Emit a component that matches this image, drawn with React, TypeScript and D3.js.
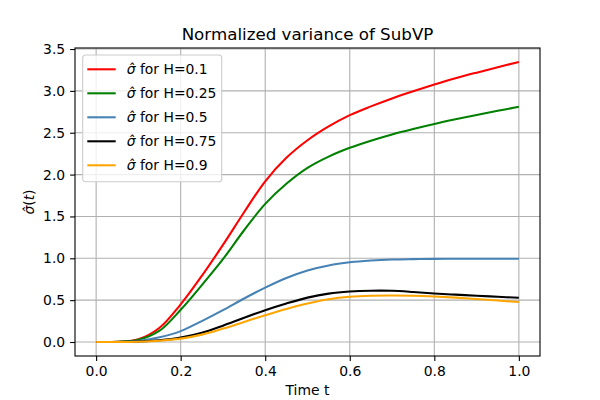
import * as d3 from "d3";
import { useEffect, useRef } from "react";

const WIDTH = 600;
const HEIGHT = 400;
const FONT = "DejaVu Sans, sans-serif";

// time grid and the five series
const times = [0, 0.05, 0.1, 0.15, 0.2, 0.25, 0.3, 0.35, 0.4, 0.45, 0.5, 0.55, 0.6, 0.65, 0.7, 0.75, 0.8, 0.85, 0.9, 0.95, 1.0];
const sigmaH010 = [0, 0.003, 0.033, 0.17, 0.45, 0.79, 1.16, 1.55, 1.92, 2.2, 2.41, 2.575, 2.71, 2.815, 2.91, 2.995, 3.075, 3.15, 3.218, 3.283, 3.345];
const sigmaH025 = [0, 0.002, 0.026, 0.135, 0.385, 0.68, 0.99, 1.335, 1.65, 1.89, 2.08, 2.215, 2.32, 2.405, 2.48, 2.545, 2.605, 2.66, 2.712, 2.762, 2.81];
const sigmaH050 = [0, 0.001, 0.013, 0.056, 0.13, 0.25, 0.38, 0.52, 0.65, 0.765, 0.855, 0.915, 0.952, 0.973, 0.985, 0.99, 0.993, 0.994, 0.994, 0.994, 0.994];
const sigmaH075 = [0, 0.0005, 0.005, 0.02, 0.052, 0.11, 0.195, 0.29, 0.38, 0.46, 0.53, 0.578, 0.603, 0.613, 0.612, 0.598, 0.58, 0.566, 0.553, 0.54, 0.528];
const sigmaH090 = [0, 0.0003, 0.004, 0.015, 0.04, 0.088, 0.16, 0.24, 0.32, 0.395, 0.46, 0.51, 0.54, 0.553, 0.556, 0.552, 0.543, 0.53, 0.513, 0.495, 0.477];

const seriesLabels = ["H=0.1", "H=0.25", "H=0.5", "H=0.75", "H=0.9"];
const seriesColors = ["red", "green", "steelblue", "black", "orange"];
const seriesValues = [sigmaH010, sigmaH025, sigmaH050, sigmaH075, sigmaH090];

const xTicks = [0, 0.2, 0.4, 0.6, 0.8, 1.0];
const yTicks = [0, 0.5, 1.0, 1.5, 2.0, 2.5, 3.0, 3.5];

export default function App() {
    const svgRef = useRef<SVGSVGElement | null>(null);

    useEffect(() => {
        document.body.style.margin = "0";
        if (!svgRef.current) return;
        const svg = d3.select(svgRef.current);
        svg.selectAll("*").remove();

        const margin = { top: 48, right: 60, bottom: 44, left: 75 };
        const innerWidth = WIDTH - margin.left - margin.right;
        const innerHeight = HEIGHT - margin.top - margin.bottom;

        const yMax = d3.max(sigmaH010) ?? 1;
        const x = d3.scaleLinear().domain([-0.05, 1.05]).range([0, innerWidth]);
        const y = d3.scaleLinear().domain([-0.05 * yMax, 1.05 * yMax]).range([innerHeight, 0]);

        svg.append("rect").attr("width", WIDTH).attr("height", HEIGHT).attr("fill", "white");

        const g = svg.append("g").attr("transform", `translate(${margin.left},${margin.top})`);

        // grid
        g.append("g")
            .selectAll("line")
            .data(xTicks)
            .enter()
            .append("line")
            .attr("x1", (d) => x(d))
            .attr("x2", (d) => x(d))
            .attr("y1", 0)
            .attr("y2", innerHeight)
            .attr("stroke", "#b0b0b0")
            .attr("stroke-width", 1.1);
        g.append("g")
            .selectAll("line")
            .data(yTicks)
            .enter()
            .append("line")
            .attr("x1", 0)
            .attr("x2", innerWidth)
            .attr("y1", (d) => y(d))
            .attr("y2", (d) => y(d))
            .attr("stroke", "#b0b0b0")
            .attr("stroke-width", 1.1);

        // axes
        const xAxis = g
            .append("g")
            .attr("transform", `translate(0,${innerHeight})`)
            .call(d3.axisBottom(x).tickValues(xTicks).tickFormat(d3.format(".1f")).tickSize(4.9).tickPadding(4.9).tickSizeOuter(0));
        const yAxis = g.append("g").call(d3.axisLeft(y).tickValues(yTicks).tickFormat(d3.format(".1f")).tickSize(4.9).tickPadding(4.9).tickSizeOuter(0));
        [xAxis, yAxis].forEach((ax) => {
            ax.select(".domain").remove();
            ax.selectAll("line").attr("stroke", "black").attr("stroke-width", 1.1);
            ax.selectAll("text").attr("font-family", FONT).attr("font-size", 13.9).attr("fill", "black");
        });

        // lines
        const line = d3
            .line<number>()
            .x((_, i) => x(times[i]))
            .y((d) => y(d))
            .curve(d3.curveCatmullRom.alpha(0.5));
        seriesValues.forEach((vals, i) => {
            g.append("path").attr("d", line(vals)).attr("fill", "none").attr("stroke", seriesColors[i]).attr("stroke-width", 2.08);
        });

        // spines
        g.append("rect").attr("width", innerWidth).attr("height", innerHeight).attr("fill", "none").attr("stroke", "black").attr("stroke-width", 1.1);

        // legend
        const legend = g.append("g").attr("transform", "translate(7.7,7)");
        legend
            .append("rect")
            .attr("width", 139)
            .attr("height", 126.7)
            .attr("rx", 2.8)
            .attr("fill", "white")
            .attr("fill-opacity", 0.8)
            .attr("stroke", "#cccccc")
            .attr("stroke-width", 1.1);
        legend
            .selectAll("g.item")
            .data(seriesLabels)
            .enter()
            .append("g")
            .attr("transform", (_, i) => `translate(0,${14.3 + i * 24})`)
            .call((item) => {
                item.append("line")
                    .attr("x1", 4.6)
                    .attr("x2", 33)
                    .attr("stroke", (_, i) => seriesColors[i])
                    .attr("stroke-width", 2.08);
                const t = item.append("text").attr("x", 44).attr("y", 5).attr("font-family", FONT).attr("font-size", 13.9).attr("fill", "black");
                t.append("tspan").attr("font-style", "italic").text("\u03c3\u0302");
                t.append("tspan").text((d) => ` for ${d}`);
            });

        // title and labels
        svg.append("text")
            .attr("x", margin.left + innerWidth / 2)
            .attr("y", 40)
            .attr("text-anchor", "middle")
            .attr("font-family", FONT)
            .attr("font-size", 16.7)
            .text("Normalized variance of SubVP");
        svg.append("text")
            .attr("x", margin.left + innerWidth / 2)
            .attr("y", 395)
            .attr("text-anchor", "middle")
            .attr("font-family", FONT)
            .attr("font-size", 13.9)
            .text("Time t");
        const yl = svg
            .append("text")
            .attr("transform", `translate(34,${margin.top + innerHeight / 2}) rotate(-90)`)
            .attr("text-anchor", "middle")
            .attr("font-family", FONT)
            .attr("font-size", 13.9);
        yl.append("tspan").attr("font-style", "italic").text("\u03c3\u0302");
        yl.append("tspan").text("(");
        yl.append("tspan").attr("font-style", "italic").text("t");
        yl.append("tspan").text(")");

        return () => {
            svg.selectAll("*").remove();
        };
    }, []);

    return <svg ref={svgRef} width={WIDTH} height={HEIGHT} style={{ display: "block" }} />;
}
